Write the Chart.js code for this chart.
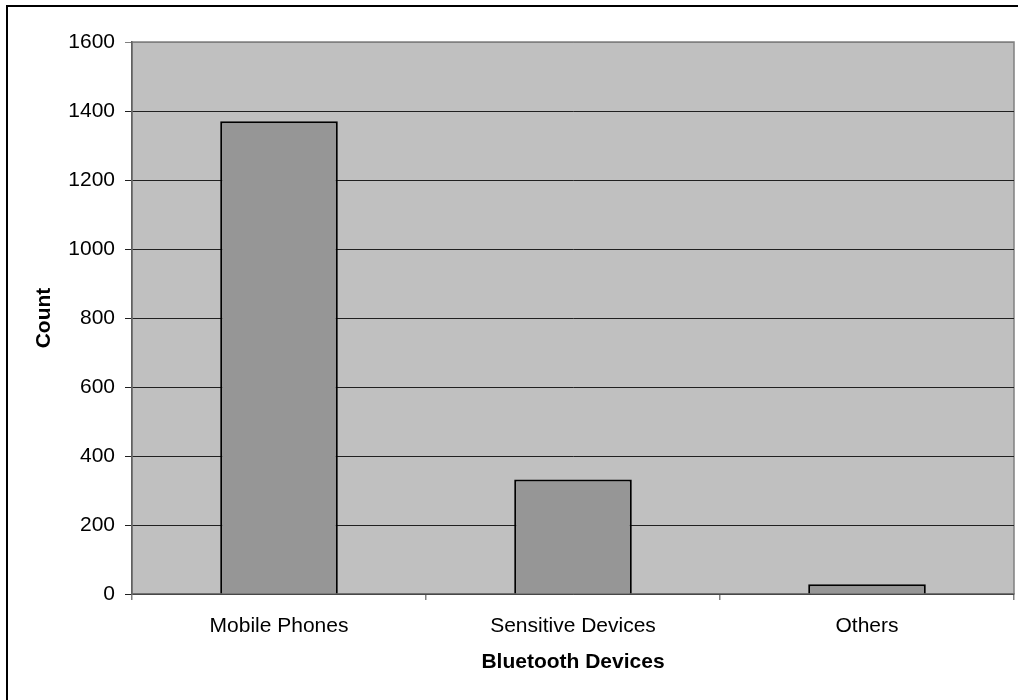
<!DOCTYPE html>
<html>
<head>
<meta charset="utf-8">
<script src="https://cdn.jsdelivr.net/npm/chart.js@4/dist/chart.umd.min.js"></script>
<style>
  body { margin: 0; background: #fff; }
  #wrap { position: relative; width: 1018px; height: 700px; overflow: hidden; }
  #frame { position: absolute; left: 6px; top: 5px; width: 1100px; height: 800px;
           border-top: 2px solid #000; border-left: 2px solid #000; }
  #chart { position: absolute; left: 0; top: 0; }
</style>
</head>
<body>
<div id="wrap">
  <div id="frame"></div>
  <canvas id="chart" width="1018" height="700"></canvas>
</div>
<script>
var categories = ['Mobile Phones', 'Sensitive Devices', 'Others'];
var counts = [1370, 332, 28];
var yTicks = [0, 200, 400, 600, 800, 1000, 1200, 1400, 1600];

// gray plot area with a thin gray frame, like the old Excel chart
var plotBackground = {
    id: 'plotBackground',
    beforeDraw: function (chart) {
        var a = chart.chartArea;
        var c = chart.ctx;
        c.save();
        c.fillStyle = '#c0c0c0';
        c.fillRect(a.left, a.top, a.right - a.left, a.bottom - a.top);
        c.strokeStyle = '#808080';
        c.lineWidth = 1.5;
        c.strokeRect(a.left, a.top, a.right - a.left, a.bottom - a.top);
        c.restore();
    }
};

Chart.defaults.font.family = '"Liberation Sans", Arial, sans-serif';
Chart.defaults.color = '#000';

var ctx = document.getElementById('chart');
new Chart(ctx, {
    type: 'bar',
    data: {
        labels: categories,
        datasets: [{
            label: 'Count',
            data: counts,
            backgroundColor: '#969696',
            borderColor: '#000',
            borderWidth: 2,
            barPercentage: 0.4,
            categoryPercentage: 1.0
        }]
    },
    options: {
        responsive: false,
        animation: false,
        layout: { padding: { top: 42, right: 4, left: 0, bottom: 0 } },
        plugins: { legend: { display: false }, tooltip: { enabled: false } },
        scales: {
            x: {
                offset: true,
                grid: {
                    offset: true,
                    drawOnChartArea: false,
                    drawTicks: true,
                    tickLength: 6,
                    color: '#808080',
                    lineWidth: 1.5
                },
                border: { color: '#707070', width: 1.5 },
                ticks: { font: { size: 21 }, padding: 14, maxRotation: 0 },
                title: {
                    display: true,
                    text: 'Bluetooth Devices',
                    font: { size: 21, weight: 'bold' },
                    padding: { top: 0, bottom: 25 }
                },
                afterFit: function (scale) { scale.height = 106; }
            },
            y: {
                min: 0,
                max: 1600,
                afterBuildTicks: function (scale) {
                    scale.ticks = yTicks.map(function (v) { return { value: v }; });
                },
                grid: {
                    tickLength: 7,
                    lineWidth: 1,
                    color: function (c) {
                        return c.tick && c.tick.value === 1600 ? '#808080' : '#202020';
                    }
                },
                border: { color: '#606060', width: 1.5 },
                ticks: {
                    font: { size: 21 },
                    padding: 10,
                    callback: function (v) { return String(v); }
                },
                title: {
                    display: true,
                    text: 'Count',
                    font: { size: 21, weight: 'bold' },
                    padding: { top: 32, bottom: 0 }
                },
                afterFit: function (scale) { scale.width = 132; }
            }
        }
    },
    plugins: [plotBackground]
});
</script>
</body>
</html>
